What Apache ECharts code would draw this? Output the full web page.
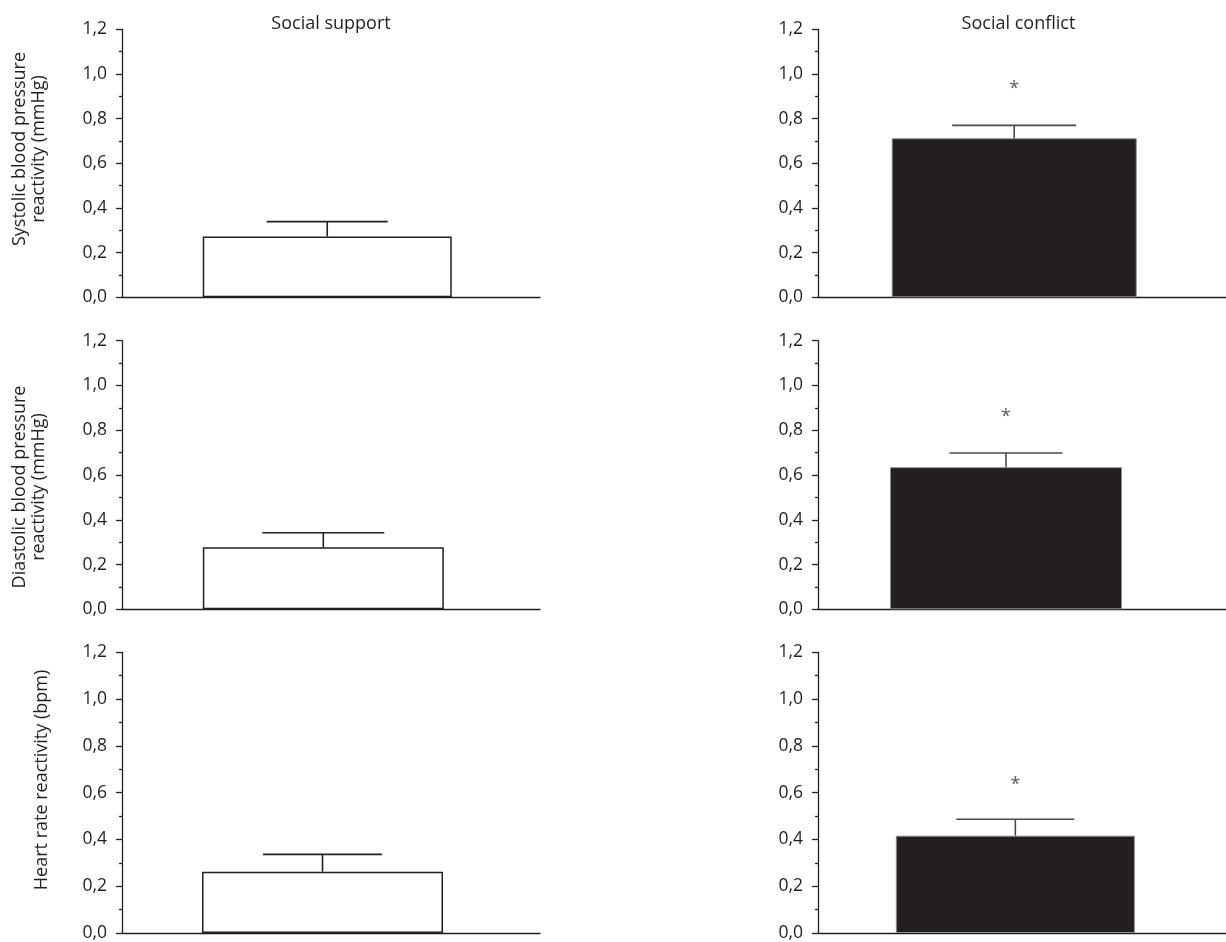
<!DOCTYPE html>
<html>
<head>
<meta charset="utf-8">
<script src="https://cdn.jsdelivr.net/npm/echarts@6/dist/echarts.min.js"></script>
<style>
html,body{margin:0;padding:0;background:#fff;}
#chart{width:1226px;height:942px;}
</style>
</head>
<body>
<div id="chart"></div>
<script>
// ---- data ----
const groups = ['Social support', 'Social conflict'];
const measures = [
  'Systolic blood pressure\nreactivity (mmHg)',
  'Diastolic blood pressure\nreactivity (mmHg)',
  'Heart rate reactivity (bpm)'
];
const supportMean  = [0.272, 0.277, 0.262];
const supportUpper = [0.339, 0.342, 0.336];
const conflictMean  = [0.712, 0.635, 0.416];
const conflictUpper = [0.770, 0.698, 0.486];
const conflictStar  = [0.942, 0.868, 0.64];
const yMin = 0, yMax = 1.2, yStep = 0.2;

// ---- layout (positions / sizes only) ----
const FONT = '"Open Sans", "Noto Sans", sans-serif';
const TXT = '#231f20';
const rows = [
  {top: 29.3, height: 268},
  {top: 340.7, height: 268.6},
  {top: 652.3, height: 282.4}
];
const cols = [
  {left: 122, width: 418, xc: [0.491, 0.4816, 0.4797], barW: [249, 241, 241], capW: [121, 122, 119],
   fill: '#ffffff', border: '#231f20', borderW: 1.5, err: '#231f20'},
  {left: 818, width: 418, xc: [0.4809, 0.4608, 0.4837], barW: [245, 232, 239], capW: [124, 113, 118],
   fill: '#231f20', border: '#8a8a8a', borderW: 1, err: '#4a4a4a'}
];
const titleX = [331, 1018.5];
const yTitleX = [[20, 39], [20, 39], [42]];
const yTitleY = [149, 487, 780];

const chart = echarts.init(document.getElementById('chart'), null, {renderer: 'canvas'});
const grid = [], xAxis = [], yAxis = [], series = [];
const means = [supportMean, conflictMean];
const uppers = [supportUpper, conflictUpper];

let gi = 0;
for (let r = 0; r < 3; r++) {
  for (let c = 0; c < 2; c++) {
    const col = cols[c];
    grid.push({left: col.left, top: rows[r].top, width: col.width, height: rows[r].height, containLabel: false});
    xAxis.push({
      gridIndex: gi, type: 'value', min: 0, max: 1,
      axisLine: {show: true, lineStyle: {color: '#231f20', width: 1.3}},
      axisTick: {show: false}, axisLabel: {show: false}, splitLine: {show: false}
    });
    yAxis.push({
      gridIndex: gi, type: 'value', min: yMin, max: yMax, interval: yStep,
      axisLine: {show: true, lineStyle: {color: '#231f20', width: 1.3}},
      axisTick: {show: true, inside: false, length: 6, lineStyle: {color: '#231f20', width: 1.3}},
      minorTick: {show: true, splitNumber: 2, length: 3, lineStyle: {color: '#231f20', width: 1.3}},
      splitLine: {show: false}, minorSplitLine: {show: false},
      axisLabel: {
        margin: 15, fontSize: 17.5, color: TXT, fontFamily: FONT,
        formatter: v => v.toFixed(1).replace('.', ',')
      }
    });
    const xc = col.xc[r];
    series.push({
      type: 'bar', xAxisIndex: gi, yAxisIndex: gi,
      barWidth: col.barW[r],
      data: [[xc, means[c][r]]],
      itemStyle: {color: col.fill, borderColor: col.border, borderWidth: col.borderW},
      silent: true, animation: false
    });
    const capW = col.capW[r], errColor = col.err;
    series.push({
      type: 'custom', xAxisIndex: gi, yAxisIndex: gi,
      data: [[xc, means[c][r], uppers[c][r]]],
      renderItem: function (params, api) {
        const p0 = api.coord([api.value(0), api.value(1)]);
        const p1 = api.coord([api.value(0), api.value(2)]);
        const h = capW / 2;
        const st = {stroke: errColor, lineWidth: 1.6};
        return {type: 'group', children: [
          {type: 'line', shape: {x1: p0[0], y1: p0[1], x2: p1[0], y2: p1[1]}, style: st},
          {type: 'line', shape: {x1: p1[0] - h, y1: p1[1], x2: p1[0] + h, y2: p1[1]}, style: st}
        ]};
      },
      z: 3, silent: true, animation: false
    });
    if (c === 1) {
      series.push({
        type: 'scatter', xAxisIndex: gi, yAxisIndex: gi,
        symbolSize: 0,
        data: [[xc, conflictStar[r]]],
        label: {show: true, position: 'inside', formatter: '*', fontSize: 18, color: '#333', fontFamily: FONT, offset: [0, 2]},
        silent: true, animation: false
      });
    }
    gi++;
  }
}

const graphic = [];
groups.forEach((g, i) => {
  graphic.push({type: 'text', x: titleX[i], y: 24,
    style: {text: g, font: '18px ' + FONT, fill: TXT, align: 'center', verticalAlign: 'middle'}});
});
measures.forEach((m, r) => {
  const lines = m.split('\n');
  lines.forEach((ln, k) => {
    graphic.push({type: 'text', x: yTitleX[r][k], y: yTitleY[r], rotation: Math.PI / 2,
      style: {text: ln, font: '18px ' + FONT, fill: TXT, align: 'center', verticalAlign: 'middle'}});
  });
});

chart.setOption({animation: false, backgroundColor: '#fff', grid, xAxis, yAxis, series, graphic});
</script>
</body>
</html>
